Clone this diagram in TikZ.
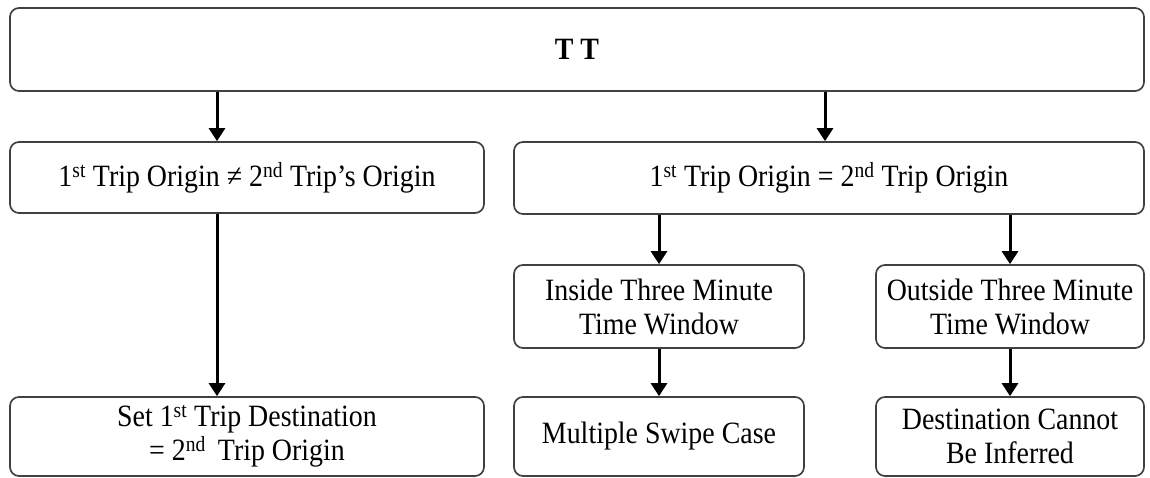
\documentclass[tikz,border=0pt]{standalone}
\usepackage{fontspec}
\setmainfont{Liberation Serif}[FakeStretch=0.9]
\usetikzlibrary{arrows.meta}
\begin{document}
\begin{tikzpicture}[x=1pt,y=-1pt,
  box/.style={draw=black!75,line width=1.7pt,rounded corners=9pt,fill=white,
    inner sep=0pt,align=center,font=\fontsize{31}{34}\selectfont},
  arr/.style={line width=3pt,-{Triangle[width=16pt,length=13pt]}}]
\useasboundingbox (0,0) rectangle (1150,478);
% boxes
\node[box,minimum width=1134pt,minimum height=83pt] (top) at (577,49.5) {\bfseries T T};
\node[box,minimum width=474pt,minimum height=71pt] (diff) at (247,177.5)
  {1\textsuperscript{st} Trip Origin ≠ 2\textsuperscript{nd} Trip’s Origin};
\node[box,minimum width=630pt,minimum height=72pt] (same) at (829,178)
  {1\textsuperscript{st} Trip Origin = 2\textsuperscript{nd} Trip Origin};
\node[box,minimum width=290pt,minimum height=83pt] (inside) at (659,306.5)
  {Inside Three Minute\\Time Window};
\node[box,minimum width=268pt,minimum height=83pt] (outside) at (1010,306.5)
  {Outside Three Minute\\Time Window};
\node[box,minimum width=474pt,minimum height=79pt] (setdest) at (247,436.5)
  {Set 1\textsuperscript{st} Trip Destination\\= 2\textsuperscript{nd} \,Trip Origin};
\node[box,minimum width=290pt,minimum height=79pt] (multi) at (659,436.5)
  {Multiple Swipe Case};
\node[box,minimum width=268pt,minimum height=79pt] (noinf) at (1010,436.5)
  {Destination Cannot\\Be Inferred};
% arrow columns
\coordinate (cl) at (217,0);
\coordinate (cr) at (825,0);
% connectors
\draw[arr] (top.south -| cl) -- (diff.north -| cl);
\draw[arr] (top.south -| cr) -- (same.north -| cr);
\draw[arr] (diff.south -| cl) -- (setdest.north -| cl);
\draw[arr] (same.south -| inside) -- (inside.north);
\draw[arr] (same.south -| outside) -- (outside.north);
\draw[arr] (inside.south) -- (multi.north);
\draw[arr] (outside.south) -- (noinf.north);
\end{tikzpicture}
\end{document}
